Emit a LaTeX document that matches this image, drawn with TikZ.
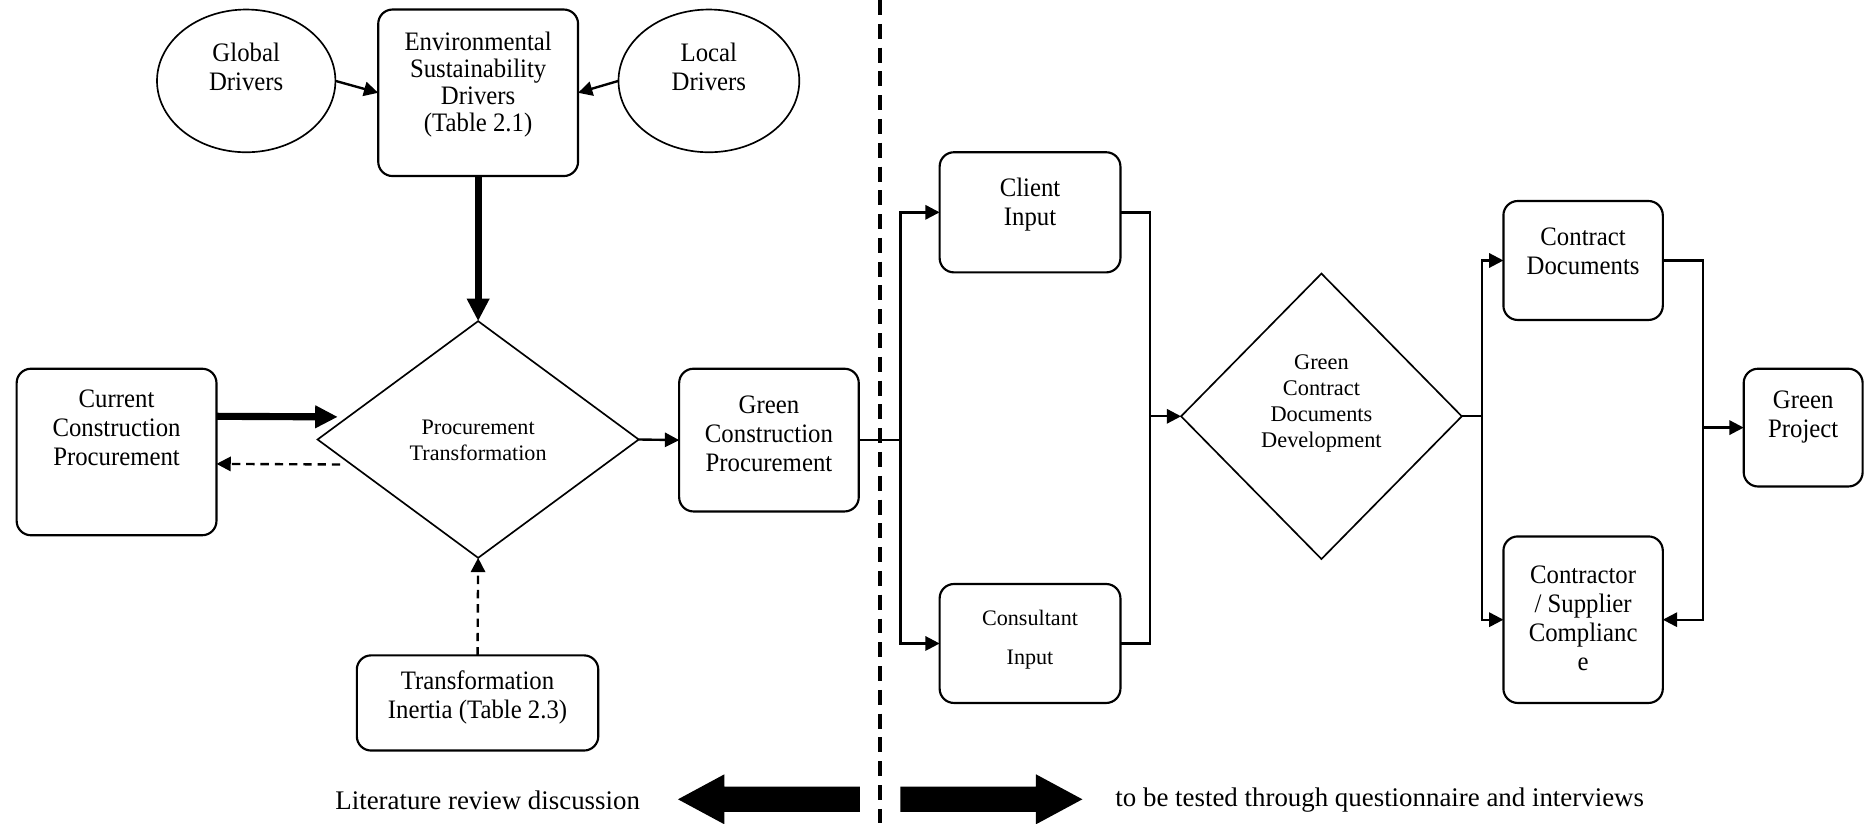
\documentclass[tikz,border=0pt]{standalone}
\usepackage{fontspec}
\setmainfont{Liberation Serif}
\newfontfamily\narrowserif{Liberation Serif}[FakeStretch=0.93]
\usetikzlibrary{arrows.meta,shapes.geometric,calc}

\begin{document}
\begin{tikzpicture}[x=0.5pt,y=-0.5pt,
  every node/.style={inner sep=0pt, outer sep=0pt},
  rbox/.style={draw, rectangle, rounded corners=6pt, line width=0.9pt},
  oval/.style={draw, ellipse, line width=0.7pt},
  decision/.style={draw, diamond, line width=0.7pt},
  maintxt/.style={align=center, font=\narrowserif\fontsize{11.2}{12.2}\selectfont},
  tighttxt/.style={align=center, font=\narrowserif\fontsize{11.2}{11.4}\selectfont},
  smalltxt/.style={align=center, font=\fontsize{9.3}{11.1}\selectfont},
  legendtxt/.style={font=\fontsize{11.3}{13}\selectfont},
  conn/.style={line width=1pt, -{Triangle[length=6pt,width=6pt]}},
  link/.style={line width=1pt},
  bold/.style={line width=3pt, -{Triangle[length=9.5pt,width=9pt]}},
  dashconn/.style={line width=1pt, dash pattern=on 3.5pt off 2.5pt, -{Triangle[length=6pt,width=6pt]}},
  divider/.style={line width=1.5pt, dash pattern=on 6.3pt off 3.7pt},
]
\useasboundingbox (0,0) rectangle (1568,692);

% ---- literature side ----
\node[oval, minimum width=75pt, minimum height=60pt] (glob) at (207,68) {};
\node[maintxt] (globt) at (207,56) {Global\\Drivers};
\node[oval, minimum width=76pt, minimum height=60pt] (loc) at (596,68) {};
\node[maintxt] (loct) at (596,56) {Local\\Drivers};

\node[rbox, minimum width=84pt, minimum height=70pt] (env) at (402,78) {};
\node[tighttxt] (envt) at (402,71) {Environmental\\Sustainability\\Drivers\\(Table 2.1)};

\node[decision, minimum width=135pt, minimum height=99.5pt] (pt) at (402,369.5) {};
\node[smalltxt] (ptt) at (402,370) {Procurement\\Transformation};

\node[rbox, minimum width=84pt, minimum height=70pt] (cur) at (98,380) {};
\node[maintxt] (curt) at (98,360) {Current\\Construction\\Procurement};

\node[rbox, minimum width=75.5pt, minimum height=60pt] (gcp) at (646.5,370) {};
\node[maintxt] (gcpt) at (646.5,365) {Green\\Construction\\Procurement};

\node[rbox, minimum width=101.5pt, minimum height=40pt] (inert) at (401.5,591) {};
\node[maintxt] (inertt) at (401.5,586) {Transformation\\Inertia (Table 2.3)};

\draw[conn] (glob.east) -- (env.west);
\draw[conn] (loc.west) -- (env.east);
\draw[bold] (env.south) -- (pt.north);
\draw[bold] ($(cur.east)+(0,-30)$) -- ($(pt.west)+(17,-19)$);
\draw[dashconn] ($(pt.west)+(19,21)$) -- ($(cur.east)+(0,10)$);
\draw[conn] (pt.east) -- (gcp.west);
\draw[dashconn] (inert.north) -- (pt.south);

% ---- divider ----
\coordinate (divtop) at (740,0);
\coordinate (divbot) at (740,692);
\draw[divider] (divtop) -- (divbot);

% ---- questionnaire side ----
\node[rbox, minimum width=76pt, minimum height=50.5pt] (client) at (866,178.5) {};
\node[maintxt] (clientt) at (866,172) {Client\\Input};
\node[rbox, minimum width=76pt, minimum height=50pt] (cons) at (866,541) {};
\node[smalltxt] (const) at (866,538) {Consultant\\[5.2pt]Input};

\node[decision, minimum width=118pt, minimum height=120pt] (gcd) at (1111,350) {};
\node[smalltxt, font=\fontsize{9.4}{10.9}\selectfont] (gcdt) at (1111,339) {Green\\Contract\\Documents\\Development};

\node[rbox, minimum width=67pt, minimum height=50pt] (cd) at (1331,219) {};
\node[maintxt] (cdt) at (1331,211) {Contract\\Documents};
\node[rbox, minimum width=67pt, minimum height=70pt] (csc) at (1331,521) {};
\node[maintxt] (csct) at (1331,519.5) {Contractor\\/ Supplier\\Complianc\\e};

\node[rbox, minimum width=50pt, minimum height=49.5pt] (gp) at (1516,359.5) {};
\node[maintxt] (gpt) at (1516,351) {Green\\Project};

\coordinate (split1) at ($(gcp.east)+(35,0)$);
\draw[link] (gcp.east) -- (split1);
\draw[conn] (split1) |- (client.west);
\draw[conn] (split1) |- (cons.west);

\coordinate (merge1) at ($(client.east)+(25,0)$);
\draw[link] (client.east) -- (merge1) |- (cons.east);
\draw[conn] (merge1 |- gcd.west) -- (gcd.west);

\coordinate (split2) at ($(gcd.east)+(17,0)$);
\draw[link] (gcd.east) -- (split2);
\draw[conn] (split2) |- (cd.west);
\draw[conn] (split2) |- (csc.west);

\coordinate (merge2) at ($(cd.east)+(34,0)$);
\draw[conn] (cd.east) -- (merge2) |- (csc.east);
\draw[conn] (merge2 |- gp.west) -- (gp.west);

% ---- bottom legend ----
\node[legendtxt] (lit) at (410,673) {Literature review discussion};
\node[legendtxt] (test) at (1160,673) {to be tested through questionnaire and interviews};
\fill (570,672) -- (609,651) -- (609,661.4) -- (723,661.4) -- (723,682.6)
      -- (609,682.6) -- (609,693) -- cycle;
\fill (910,672) -- (871,651) -- (871,661.4) -- (757,661.4) -- (757,682.6)
      -- (871,682.6) -- (871,693) -- cycle;
\end{tikzpicture}
\end{document}
